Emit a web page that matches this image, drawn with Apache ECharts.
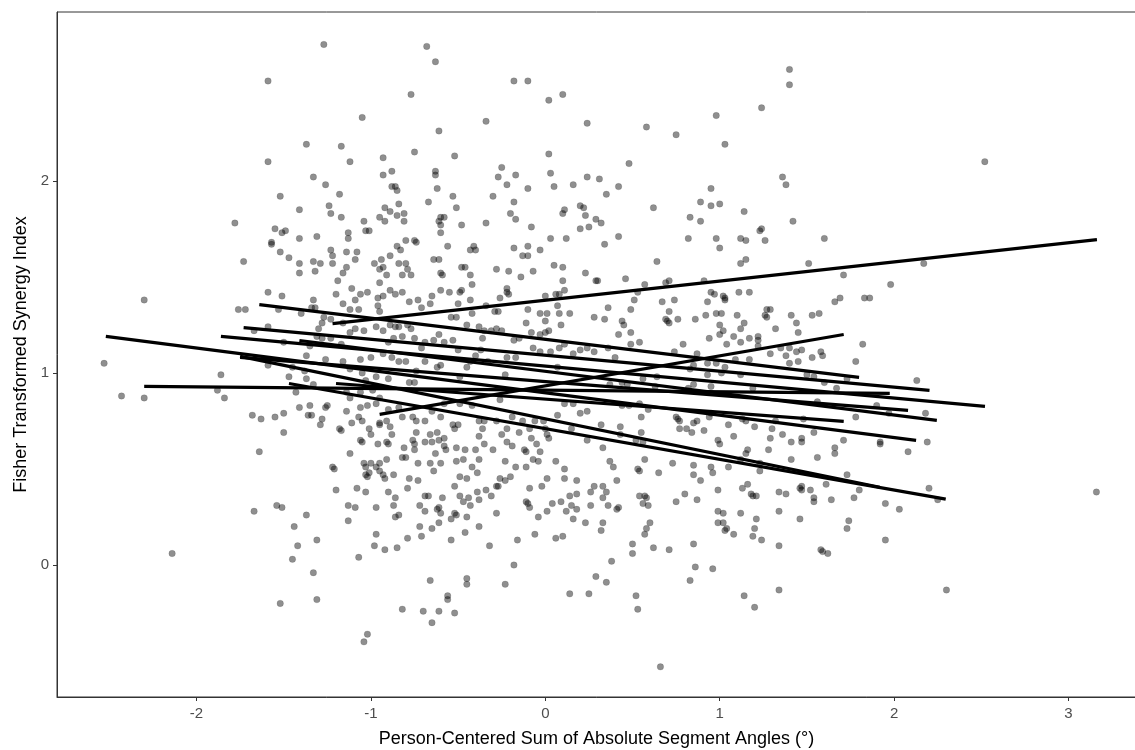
<!DOCTYPE html>
<html>
<head>
<meta charset="utf-8">
<script src="https://cdn.jsdelivr.net/npm/echarts@6/dist/echarts.min.js"></script>
<style>
  html, body { margin: 0; padding: 0; background: #fff; }
  #chart { width: 1135px; height: 750px; }
</style>
</head>
<body>
<div id="chart"></div>
<script>
// tick labels
const xTicks = [-2, -1, 0, 1, 2, 3]
const yTicks = [0, 1, 2]

// observations (person-centered angle sum, fisher z)
const pointsTop = [
  [-1.27,2.71],[-1.59,2.52],[-1.37,2.19],[-1.59,2.10],[-1.33,2.02],[-1.26,1.98],[-1.52,1.92],[-1.41,1.85],[-1.78,1.78],[-1.55,1.75],[-1.49,1.74],[-1.51,1.73],[-1.41,1.70],[-1.31,1.71],[-1.57,1.68],
  [-0.68,2.70],[-0.63,2.62],[-0.18,2.52],[-0.10,2.52],[-0.77,2.45],[0.02,2.42],[0.10,2.45],[-1.05,2.33],[-0.34,2.31],[-0.61,2.26],[0.24,2.30],[-1.17,2.18],[-0.75,2.15],[-1.12,2.10],[-0.93,2.12],[-0.52,2.13],[0.02,2.14],[-0.25,2.07],[-0.93,2.03],[-0.88,2.05],[-0.63,2.05],[-0.63,2.03],[-0.27,2.02],[-0.17,2.03],[0.03,2.04],[0.24,2.02],
  [-0.88,1.97],[-0.86,1.97],[-0.85,1.95],[-0.62,1.96],[-0.22,1.98],[-0.10,1.96],[0.05,1.97],[0.16,1.98],[-1.18,1.93],[-0.30,1.92],[-0.53,1.92],[-0.67,1.89],[-0.18,1.89],[-1.24,1.87],[-0.84,1.88],[-0.92,1.86],[-0.51,1.86],[0.20,1.87],[0.22,1.86],[-1.23,1.83],[-0.89,1.84],[-0.81,1.83],[-0.85,1.82],[-0.20,1.83],[0.10,1.83],[0.11,1.85],[0.23,1.82],
  [-1.17,1.81],[-0.95,1.81],[-0.92,1.79],[-1.04,1.79],[-0.81,1.79],[-0.61,1.79],[-0.60,1.81],[-0.58,1.81],[-0.60,1.77],[-0.48,1.77],[-0.34,1.78],[-0.17,1.80],[-0.08,1.76],[0.20,1.75],[0.25,1.76],[0.29,1.80],[-1.13,1.73],[-1.13,1.70],[-1.03,1.74],[-1.01,1.74],[-0.60,1.73],[-0.80,1.69],[-0.75,1.69],[0.03,1.70],[0.12,1.70],
  [1.40,2.58],[1.40,2.50],[1.24,2.38],[0.98,2.34],[0.58,2.28],[0.75,2.24],[1.03,2.19],[0.48,2.09],[0.31,2.01],[0.42,1.97],[0.35,1.93],[1.36,2.02],[1.38,1.98],[0.95,1.96],[0.62,1.86],[0.89,1.89],[0.95,1.87],[1.00,1.88],[0.83,1.81],[0.89,1.79],[1.14,1.84],[1.42,1.79],[0.32,1.78],[0.42,1.71],[0.82,1.70],[0.98,1.70],[1.12,1.70],[1.15,1.69],[1.23,1.74],[1.24,1.75],[1.26,1.69],[1.60,1.70],
  [2.52,2.10],[2.17,1.57],[1.98,1.46],[1.86,1.39]
]

const pointsLeft = [
  [-1.57,1.67],[-1.52,1.63],[-1.47,1.60],[-1.73,1.58],[-1.41,1.57],[-1.33,1.58],[-1.29,1.57],[-1.41,1.52],[-1.32,1.53],[-2.30,1.38],[-1.59,1.42],[-1.51,1.40],[-1.33,1.38],[-1.76,1.33],[-1.72,1.33],[-1.53,1.33],[-1.40,1.31],[-1.34,1.34],[-1.32,1.34],[-1.27,1.29],[-1.28,1.26],[-1.59,1.24],[-1.67,1.22],[-1.30,1.23],[-1.31,1.19],[-1.28,1.18],[-1.50,1.16],[-1.35,1.14],
  [-2.53,1.05],[-1.37,1.09],[-1.59,1.04],[-1.45,1.03],[-1.38,1.01],[-1.86,0.99],[-1.47,0.98],[-1.37,0.97],[-1.33,0.94],[-1.88,0.91],[-1.43,0.90],[-2.43,0.88],[-2.30,0.87],[-1.84,0.87],[-1.41,0.82],[-1.35,0.83],[-1.26,0.82],[-1.68,0.78],[-1.63,0.76],[-1.55,0.77],[-1.50,0.79],[-1.36,0.78],[-1.34,0.78],[-1.28,0.76],[-1.29,0.73],[-1.50,0.69],[-1.64,0.59],
  [-1.67,0.28],[-1.54,0.31],[-1.51,0.30],[-1.37,0.26],[-1.44,0.20],[-1.31,0.13],[-1.42,0.10],[-1.45,0.03],[-1.33,-0.04],[-2.14,0.06],[-1.52,-0.20],[-1.31,-0.18]
]

const pointsCenter = [
  [-1.23,1.64],[-1.22,1.61],[-1.22,1.57],[-1.14,1.63],[-1.08,1.63],[-1.09,1.59],[-0.85,1.66],[-0.83,1.64],[-0.74,1.68],[-0.89,1.61],[-0.98,1.57],[-0.94,1.59],[-0.93,1.55],[-0.95,1.54],[-0.91,1.51],[-0.84,1.57],[-0.80,1.57],[-0.79,1.54],[-0.82,1.51],[-0.77,1.51],[-1.14,1.55],[-1.16,1.52],[-1.19,1.48],[-0.95,1.47],
  [-0.64,1.59],[-0.61,1.59],[-0.60,1.52],[-0.59,1.51],[-0.56,1.66],[-0.48,1.55],[-0.46,1.55],[-0.43,1.51],[-0.42,1.46],[-0.43,1.64],[-0.41,1.66],[-0.40,1.64],[-0.28,1.54],[-0.21,1.53],[-0.18,1.65],[-0.13,1.61],[-0.10,1.61],[-0.10,1.66],[-0.03,1.64],[-0.14,1.50],[-0.07,1.53],[0.05,1.56],[0.10,1.55],[0.10,1.48],[0.23,1.52],[0.29,1.48],
  [-1.20,1.41],[-1.11,1.44],[-1.06,1.41],[-1.09,1.38],[-1.02,1.42],[-1.16,1.36],[-1.12,1.33],[-1.07,1.33],[-0.96,1.39],[-0.93,1.40],[-0.96,1.35],[-0.95,1.32],[-0.89,1.43],[-0.86,1.41],[-0.82,1.42],[-0.78,1.37],[-0.73,1.38],[-0.66,1.36],[-0.65,1.40],[-0.71,1.34],[-0.60,1.43],[-0.55,1.42],[-0.48,1.43],[-0.49,1.42],[-0.50,1.36],[-0.43,1.38],[-0.42,1.31],[-0.54,1.29],[-0.51,1.29],
  [-0.34,1.35],[-0.29,1.32],[-0.27,1.32],[-0.26,1.39],[-0.22,1.42],[-0.22,1.44],[-0.21,1.41],[-0.10,1.33],[-0.03,1.31],[0.01,1.31],[0.00,1.40],[0.06,1.41],[0.07,1.35],[0.08,1.41],[0.11,1.43],[0.08,1.31],[0.14,1.31],[0.28,1.29],[0.00,1.27],[-0.11,1.26],[0.09,1.25],
  [-1.23,1.28],[-1.16,1.26],[-1.12,1.21],[-1.09,1.23],[-1.04,1.22],[-0.97,1.24],[-0.93,1.22],[-0.89,1.25],[-0.86,1.24],[-0.84,1.24],[-0.79,1.25],[-0.77,1.23],[-0.82,1.19],[-0.75,1.18],[-0.90,1.16],[-0.87,1.18],[-1.23,1.18],[-1.17,1.15],[-0.71,1.13],[-0.69,1.16],[-0.64,1.17],[-0.61,1.20],[-0.58,1.16],[-0.53,1.17],[-0.50,1.12],
  [-0.45,1.25],[-0.38,1.24],[-0.36,1.18],[-0.35,1.22],[-0.31,1.22],[-0.37,1.12],[-0.28,1.23],[-0.25,1.22],[-0.18,1.17],[-0.15,1.18],[-0.08,1.21],[-0.03,1.20],[0.00,1.21],[0.02,1.22],[0.08,1.13],[0.11,1.15],[0.16,1.10],[0.20,1.12],[0.24,1.13],[0.28,1.11],[-0.07,1.13],[-0.03,1.11],[0.03,1.11],[0.07,1.03],
  [-0.17,1.08],[-0.22,1.08],[-0.23,0.99],[-0.40,1.09],[-0.33,1.06],[-0.43,1.06],[-0.45,1.03],[-0.49,0.98],[-0.60,1.04],[-0.69,1.06],[-0.62,1.03],[-0.74,1.01],[-0.80,1.06],[-0.84,1.06],[-0.88,1.08],[-0.93,1.10],[-1.00,1.08],[-1.06,1.07],[-1.16,1.06],[-1.26,1.07],[-1.12,1.02],[-1.05,1.00],[-0.97,0.98],[-0.90,0.97],[-1.03,0.96],[-0.78,0.95],[-0.75,0.95],
  [-0.99,0.91],[-1.14,0.90],[-1.12,0.87],[-1.06,0.90],[-1.25,0.83],[-1.14,0.80],[-1.07,0.77],[-1.05,0.75],[-1.11,0.74],[-1.06,0.82],[-1.02,0.83],[-0.97,0.84],[-0.95,0.87],[-0.90,0.81],[-0.95,0.73],[-0.95,0.74],[-0.91,0.75],[-0.89,0.72],[-0.84,0.82],[-0.82,0.77],[-0.76,0.77],[-0.74,0.75],[-0.69,0.75],[-0.60,0.77],[-0.65,0.80],[-0.58,0.84],
  [-0.53,0.73],[-0.50,0.73],[-0.52,0.71],[-0.49,0.84],[-0.42,0.83],[-0.38,0.75],[-0.35,0.75],[-0.36,0.71],[-0.38,0.67],[-0.28,0.75],[-0.26,0.86],[-0.25,0.68],[-0.22,0.71],[-0.19,0.77],[-0.15,0.69],[-0.13,0.75],[-0.11,0.59],[-0.12,0.60],[-0.09,0.71],[-0.08,0.66],[-0.06,0.75],[-0.05,0.63],[-0.01,0.75],[0.00,0.71],[0.01,0.68],[0.02,0.66],[-0.03,0.59],[-0.07,0.55],[-0.04,0.54],
  [0.07,0.78],[0.11,0.84],[0.16,0.84],[0.20,0.79],[0.24,0.80],[0.15,0.71],[0.24,0.65],[0.06,0.54],[0.11,0.50],
  [-1.18,0.71],[-1.17,0.70],[-1.01,0.71],[-1.00,0.68],[-1.05,0.64],[-1.06,0.65],[-0.96,0.63],[-0.91,0.64],[-0.90,0.63],[-0.88,0.68],[-0.81,0.61],[-0.76,0.65],[-0.75,0.63],[-0.75,0.60],[-0.74,0.69],[-0.69,0.64],[-0.65,0.64],[-0.66,0.68],[-0.62,0.69],[-0.61,0.65],[-0.58,0.66],[-0.58,0.62],[-0.57,0.60],[-0.63,0.58],[-0.80,0.56],[-0.82,0.56],[-0.91,0.55],
  [-1.12,0.58],[-1.04,0.53],[-1.00,0.53],[-0.95,0.53],[-1.03,0.51],[-0.97,0.51],[-1.22,0.51],[-1.21,0.50],[-0.73,0.53],[-0.66,0.53],[-0.60,0.53],[-0.51,0.54],[-0.47,0.55],[-0.42,0.51],[-0.38,0.55],[-0.51,0.61],[-0.46,0.60],[-0.40,0.60],[-0.35,0.63],[-0.23,0.54],[-0.17,0.51],[-0.11,0.51],[-0.22,0.64],[-0.30,0.60],[-0.19,0.62]
]

const pointsRight = [
  [0.34,1.67],[1.00,1.65],[0.64,1.58],[1.12,1.57],[1.15,1.59],[1.51,1.57],[1.71,1.51],[0.46,1.49],[0.69,1.47],[0.71,1.48],[0.91,1.48],[0.57,1.46],[0.30,1.48],[0.53,1.42],[0.95,1.42],[0.97,1.41],[1.11,1.42],[1.17,1.42],[1.03,1.39],[1.02,1.40],[1.03,1.38],[0.51,1.38],[0.67,1.37],[0.74,1.38],[0.93,1.37],[1.66,1.37],[1.69,1.39],[1.83,1.39],
  [0.36,1.34],[0.49,1.33],[0.71,1.32],[0.98,1.31],[1.01,1.31],[1.10,1.30],[1.27,1.33],[1.29,1.33],[1.26,1.30],[1.27,1.29],[1.41,1.30],[1.53,1.30],[1.57,1.31],[0.34,1.28],[0.44,1.27],[0.45,1.25],[0.69,1.28],[0.70,1.27],[0.71,1.26],[0.76,1.28],[0.86,1.28],[0.92,1.30],[1.00,1.25],[1.14,1.26],[1.12,1.23],[1.44,1.26],[1.32,1.23],
  [0.49,1.21],[0.42,1.20],[1.02,1.22],[1.00,1.20],[1.08,1.19],[0.94,1.18],[1.17,1.18],[1.22,1.19],[1.22,1.17],[1.45,1.21],[0.49,1.15],[0.54,1.16],[0.79,1.15],[1.12,1.16],[1.04,1.15],[1.22,1.14],[1.35,1.13],[1.40,1.13],[1.29,1.10],[1.38,1.09],[1.44,1.11],[1.47,1.12],[1.45,1.06],[1.40,1.05],[1.53,1.08],[1.58,1.11],[1.59,1.09],[1.78,1.06],[1.82,1.15],
  [0.36,1.13],[0.40,1.08],[0.74,1.11],[0.87,1.10],[0.85,1.04],[0.93,1.05],[0.98,1.05],[1.09,1.07],[1.17,1.07],[1.03,1.03],[0.83,1.02],[1.01,1.00],[0.93,0.99],[1.12,0.99],[1.50,0.99],[1.54,0.98],[1.73,0.97],[1.60,0.95],[0.56,0.97],[0.64,0.98],[0.85,0.94],[0.82,0.92],[0.95,0.93],[1.19,0.92],[1.67,0.92],[0.44,0.95],[0.47,0.94],[0.63,0.93],[0.37,0.94],
  [0.44,0.83],[0.48,0.83],[0.54,0.84],[0.59,0.81],[0.55,0.77],[0.75,0.77],[0.76,0.76],[0.77,0.75],[0.85,0.74],[0.87,0.75],[0.94,0.77],[0.95,0.79],[1.13,0.76],[1.15,0.75],[1.32,0.75],[1.48,0.76],[1.56,0.85],[1.78,0.77],
  [0.32,0.73],[0.43,0.72],[0.43,0.68],[0.52,0.65],[0.55,0.69],[0.56,0.64],[0.77,0.71],[0.81,0.71],[0.84,0.69],[0.91,0.70],[1.05,0.73],[1.08,0.67],[1.20,0.72],[1.30,0.71],[1.29,0.66],[1.36,0.68],[1.41,0.64],[1.47,0.66],[1.47,0.64],[1.54,0.69],[1.71,0.65],[0.99,0.65],[1.00,0.63],[1.16,0.60],[1.15,0.58],[1.28,0.60],
  [0.33,0.61],[0.37,0.54],[0.39,0.51],[0.57,0.55],[0.73,0.53],[0.85,0.52],[0.95,0.51],[1.23,0.53],[1.56,0.56],[1.66,0.61],[1.66,0.58],[1.41,0.55],[0.53,0.50],[1.05,0.51],[1.12,0.55],
  [2.13,0.96],[1.90,0.83],[1.97,0.79],[2.18,0.79],[1.92,0.64],[1.92,0.63],[2.19,0.64],[2.08,0.59]
]

const pointsBottom = [
  [-1.02,0.46],[-1.03,0.47],[-1.01,0.48],[-0.95,0.49],[-0.93,0.47],[-0.92,0.45],[-0.87,0.47],[-0.78,0.45],[-0.73,0.44],[-0.64,0.49],[-0.49,0.46],[-0.45,0.45],[-0.39,0.48],[-0.26,0.45],[-0.23,0.44],[-0.20,0.46],
  [-1.20,0.39],[-1.08,0.40],[-1.03,0.38],[-0.90,0.38],[-0.79,0.40],[-0.86,0.35],[-0.87,0.31],[-1.13,0.31],[-1.09,0.30],[-0.97,0.30],[-1.13,0.23],[-0.86,0.25],[-0.84,0.26],[-0.97,0.16],[-0.98,0.10],[-0.92,0.08],[-0.85,0.09],[-0.79,0.14],[-1.07,0.04],
  [-0.69,0.36],[-0.67,0.36],[-0.72,0.31],[-0.69,0.28],[-0.72,0.20],[-0.71,0.15],[-0.65,0.19],[-0.61,0.22],[-0.61,0.30],[-0.62,0.29],[-0.60,0.27],[-0.59,0.35],[-0.52,0.41],[-0.49,0.36],[-0.44,0.35],[-0.47,0.33],[-0.43,0.31],[-0.52,0.27],[-0.51,0.26],[-0.54,0.24],[-0.45,0.25],[-0.46,0.17],[-0.54,0.13],
  [-0.39,0.38],[-0.34,0.39],[-0.31,0.36],[-0.38,0.34],[-0.38,0.20],[-0.28,0.27],[-0.32,0.10],[-0.28,0.41],[-0.27,0.41],[-0.16,0.13],[-0.18,0.00],[-0.23,-0.10],
  [-0.66,-0.08],[-0.45,-0.07],[-0.45,-0.10],[-0.56,-0.18],[-0.56,-0.16],[-0.82,-0.23],[-0.70,-0.24],[-0.61,-0.24],[-0.52,-0.25],[-0.65,-0.30],[-1.02,-0.36],[-1.04,-0.40],
  [-0.09,0.40],[-0.02,0.41],[0.01,0.45],[0.11,0.45],[0.18,0.44],[0.28,0.41],[0.26,0.38],[-0.11,0.33],[-0.10,0.32],[-0.09,0.30],[-0.04,0.25],[0.01,0.28],[0.04,0.32],[0.09,0.33],[0.14,0.36],[0.18,0.37],[0.15,0.31],[0.12,0.28],[0.18,0.29],[0.16,0.24],[0.23,0.22],[0.26,0.31],[-0.06,0.16],[0.06,0.14],[0.10,0.15],[0.14,-0.15],[0.25,-0.15],[0.29,-0.06],
  [0.54,0.49],[0.65,0.48],[0.85,0.47],[0.96,0.48],[0.89,0.44],[1.23,0.49],[0.41,0.44],[0.33,0.41],[0.35,0.38],[0.33,0.35],[0.36,0.31],[0.41,0.29],[0.42,0.30],[0.54,0.36],[0.57,0.36],[0.58,0.35],[0.56,0.32],[0.59,0.31],[0.33,0.22],[0.32,0.18],[0.60,0.22],[0.58,0.19],[0.57,0.16],[0.50,0.11],[0.50,0.06],[0.62,0.09],[0.71,0.08],[0.38,0.02],[0.35,-0.09],[0.52,-0.16],[0.53,-0.23],[0.66,-0.53],
  [0.75,0.33],[0.80,0.37],[0.87,0.34],[0.85,0.11],[0.86,-0.01],[0.83,-0.08],[0.96,-0.02],[0.99,0.39],[0.99,0.28],[1.02,0.27],[0.99,0.22],[1.02,0.22],[1.04,0.19],[1.03,0.18],[1.08,0.16],[1.12,0.27],[1.13,0.40],[1.16,0.42],[1.19,0.36],[1.18,0.37],[1.21,0.36],[1.21,0.24],[1.20,0.19],[1.19,0.15],[1.24,0.13],[1.14,-0.16],[1.20,-0.22],
  [1.34,0.38],[1.38,0.37],[1.34,0.28],[1.34,0.10],[1.34,-0.13],[1.47,0.41],[1.46,0.40],[1.47,0.39],[1.52,0.39],[1.54,0.35],[1.54,0.33],[1.46,0.24],[1.58,0.08],[1.59,0.07],[1.62,0.06],[1.61,0.42],[1.64,0.34],[1.73,0.47],[1.77,0.35],[1.80,0.39],[1.74,0.23],[1.73,0.19],
  [2.20,0.40],[1.95,0.32],[2.03,0.29],[2.25,0.34],[1.95,0.13],[2.30,-0.13],[3.16,0.38]
]

// per-person fitted lines: start x/y, end x/y
const fitX1 = [-1.22, -0.95, -1.64, -1.73, -2.52, -1.86, -1.75, -2.30, -1.47, -1.41, -1.20, -1.75]
const fitY1 = [1.257, 0.784, 1.356, 1.236, 1.190, 1.190, 1.081, 0.930, 0.945, 1.169, 0.945, 1.086]
const fitX2 = [3.163, 1.711, 1.799, 2.203, 2.126, 2.521, 2.080, 1.975, 2.296, 2.245, 1.711, 1.918]
const fitY2 = [1.694, 1.200, 0.977, 0.909, 0.649, 0.826, 0.805, 0.894, 0.343, 0.753, 0.748, 0.405]

const points = [].concat(pointsTop, pointsLeft, pointsCenter, pointsRight, pointsBottom)

const chart = echarts.init(document.getElementById('chart'), null, { renderer: 'canvas' })

const fitSeries = fitX1.map((x1, i) => ({
  type: 'line',
  data: [[x1, fitY1[i]], [fitX2[i], fitY2[i]]],
  showSymbol: false,
  silent: true,
  z: 3,
  lineStyle: { color: '#000', width: 3.2 }
}))

const option = {
  animation: false,
  backgroundColor: '#fff',
  grid: {
    left: 57, top: 12, right: -1, bottom: 53,
    outerBoundsMode: 'none', containLabel: false,
    show: true, borderColor: '#333', borderWidth: 1
  },
  xAxis: {
    type: 'value',
    min: -2.8,
    max: 3.387,
    interval: 1,
    name: 'Person-Centered Sum of Absolute Segment Angles (°)',
    nameLocation: 'middle',
    nameGap: 33,
    nameTextStyle: { fontFamily: 'Liberation Sans', fontSize: 18, color: '#000' },
    axisLine: { onZero: false, lineStyle: { color: '#333', width: 1 } },
    axisTick: { length: 4, lineStyle: { color: '#333' }, customValues: xTicks },
    axisLabel: { customValues: xTicks, margin: 9, fontFamily: 'Liberation Sans', fontSize: 15, color: '#4d4d4d' },
    splitLine: { show: false }
  },
  yAxis: {
    type: 'value',
    min: -0.687,
    max: 2.879,
    name: 'Fisher Transformed Synergy Index',
    nameLocation: 'middle',
    nameGap: 26,
    nameTextStyle: { fontFamily: 'Liberation Sans', fontSize: 18, color: '#000' },
    axisLine: { onZero: false, lineStyle: { color: '#333', width: 1 } },
    axisTick: { length: 4, lineStyle: { color: '#333' }, customValues: yTicks },
    axisLabel: { customValues: yTicks, margin: 8, fontFamily: 'Liberation Sans', fontSize: 15, color: '#4d4d4d' },
    splitLine: { show: false }
  },
  series: [{
    type: 'scatter',
    data: points,
    symbolSize: 6.5,
    z: 2,
    itemStyle: { color: 'rgba(0,0,0,0.55)', borderColor: 'rgba(0,0,0,0.25)', borderWidth: 0.6 }
  }].concat(fitSeries)
}

chart.setOption(option)
</script>
</body>
</html>
